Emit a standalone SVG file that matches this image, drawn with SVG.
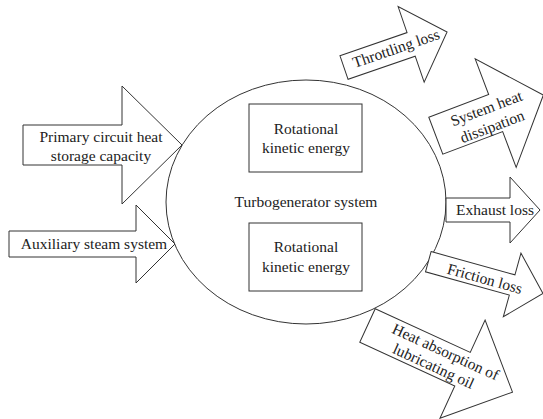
<svg xmlns="http://www.w3.org/2000/svg" width="543" height="419" viewBox="0 0 543 419">
<style>
.s{fill:#fff;stroke:#333;stroke-width:1}
.t{font-size:15.5px;fill:#222;text-anchor:middle}
</style>
<rect width="543" height="419" fill="#fff"/>
<g font-family="'Liberation Serif', 'Times New Roman', 'DejaVu Serif', serif">
<g id="system">
<ellipse class="s" cx="306" cy="202" rx="140" ry="122"/>
<text class="t" x="306" y="207">Turbogenerator system</text>
</g>
<g id="rke1">
<rect class="s" x="249" y="104" width="113" height="68"/>
<text class="t" x="306" y="134">Rotational</text>
<text class="t" x="306" y="153">kinetic energy</text>
</g>
<g id="rke2">
<rect class="s" x="249" y="223" width="113" height="68"/>
<text class="t" x="306" y="252">Rotational</text>
<text class="t" x="306" y="272">kinetic energy</text>
</g>
<g id="connectors">
<g id="primary">
<path class="s" d="M23,125 L122,125 L122,86 L182,145 L122,204 L122,165 L23,165 Z"/>
<text class="t" x="101" y="142">Primary circuit heat</text>
<text class="t" x="101" y="161">storage capacity</text>
</g>
<g id="auxiliary">
<path class="s" d="M9,231 L136,231 L136,205 L175,244 L136,283 L136,257 L9,257 Z"/>
<text class="t" x="94" y="249">Auxiliary steam system</text>
</g>
<g id="exhaust">
<path class="s" d="M446,198 L510,198 L510,177 L540,210 L510,243 L510,222 L446,222 Z"/>
<text class="t" x="495" y="215">Exhaust loss</text>
</g>
<g id="throttling" transform="translate(344,67.5) rotate(-19)">
<path class="s" d="M0,-12.5 L71,-12.5 L71,-40 L109,0 L71,40 L71,12.5 L0,12.5 Z"/>
<text class="t" x="55.5" y="4">Throttling loss</text>
</g>
<g id="heatdiss" transform="translate(435.8,135.7) rotate(-20.7)">
<path class="s" d="M0,-19.8 L64,-19.8 L64,-58 L115,0 L64,58 L64,19.8 L0,19.8 Z"/>
<text class="t" x="57" y="-2.5">System heat</text>
<text class="t" x="56" y="16.5">dissipation</text>
</g>
<g id="friction" transform="translate(428.3,261.7) rotate(15.5)">
<path class="s" d="M0,-10.5 L87,-10.5 L87,-33 L119,0 L87,33 L87,10.5 L0,10.5 Z"/>
<text class="t" x="59" y="6.5">Friction loss</text>
</g>
<g id="lubeoil" transform="translate(367.5,325.5) rotate(24.7)">
<path class="s" d="M0,-18.5 L104.6,-18.5 L104.6,-54 L159.6,0 L104.6,54 L104.6,18.5 L0,18.5 Z"/>
<text class="t" x="82" y="-3.5">Heat absorption of</text>
<text class="t" x="77" y="14.5">lubricating oil</text>
</g>
</g>
</g>
</svg>
